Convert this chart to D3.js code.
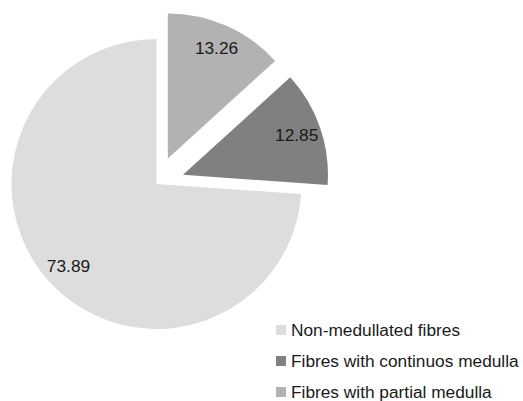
<!DOCTYPE html>
<html>
<head>
<meta charset="utf-8">
<script src="https://cdn.jsdelivr.net/npm/d3@7"></script>
<style>
  html, body { margin: 0; padding: 0; background: #fff; }
  svg text { font-family: 'Liberation Sans', Arial, sans-serif; fill: #1a1a1a; }
</style>
</head>
<body>
<svg width="523" height="401"></svg>
<script>
const categories = ['Non-medullated fibres', 'Fibres with continuos medulla', 'Fibres with partial medulla']
const values = [73.89, 12.85, 13.26]
const colors = ['#dddddd', '#808080', '#b2b2b2']
const exploded = [false, true, true]

const svg = d3.select('svg')

const cx = 156.5
const cy = 184
const radius = 145
const explode = 28

// slices run counter-clockwise from 12 o'clock, like the original
const pie = d3.pie().sort(null).startAngle(2 * Math.PI).endAngle(0)
const arcs = pie(values)

const arc = d3.arc().innerRadius(0).outerRadius(radius)
const labelArc = d3.arc().innerRadius(radius * 0.83).outerRadius(radius * 0.83)

const offset = (d, i) => {
  if (!exploded[i]) return [0, 0]
  const mid = (d.startAngle + d.endAngle) / 2
  return [Math.sin(mid) * explode, -Math.cos(mid) * explode]
}

const slices = svg.append('g')
  .attr('transform', `translate(${cx},${cy})`)
  .selectAll('g')
  .data(arcs)
  .join('g')
  .attr('transform', (d, i) => `translate(${offset(d, i)})`)

slices.append('path')
  .attr('d', arc)
  .attr('fill', (d, i) => colors[i])

slices.append('text')
  .attr('transform', (d) => `translate(${labelArc.centroid(d)})`)
  .attr('text-anchor', 'middle')
  .attr('dy', '0.35em')
  .style('font-size', '17.3px')
  .text((d) => d.data.toFixed(2))

// legend
const legend = svg.append('g')
  .attr('transform', 'translate(276,330)')
  .selectAll('g')
  .data(categories)
  .join('g')
  .attr('transform', (d, i) => `translate(0,${i * 31})`)

legend.append('rect')
  .attr('y', -5)
  .attr('width', 10)
  .attr('height', 10)
  .attr('fill', (d, i) => colors[i])

legend.append('text')
  .attr('x', 15)
  .attr('dy', '0.35em')
  .style('font-size', '17.3px')
  .text((d) => d)
</script>
</body>
</html>
